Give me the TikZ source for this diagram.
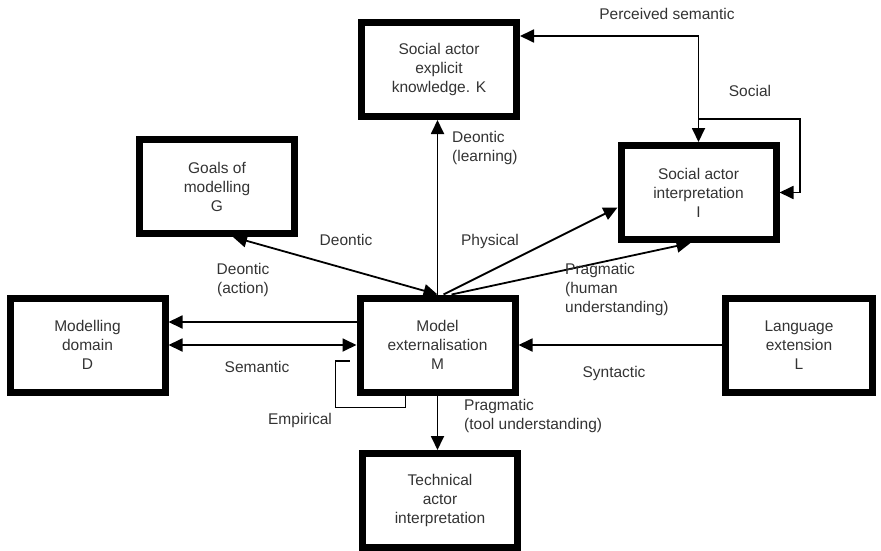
\documentclass[tikz,border=0pt]{standalone}
\usepackage{fontspec}
\setmainfont{Liberation Sans}
\usetikzlibrary{arrows.meta,calc}

\begin{document}
\begin{tikzpicture}[
	x=1pt, y=-1pt,
	font=\fontsize{15.5}{19}\selectfont,
	box/.style={ draw, line width=7pt, align=center, text=black!80, inner sep=0pt, minimum width=155pt, minimum height=94pt },
	lbl/.style={ text=black!80, align=center, inner sep=0pt },
	lbll/.style={ text=black!80, align=left, anchor=west, inner sep=0pt },
	conn/.style={ line width=1.8pt },
	arr/.style={ conn, -{Triangle[length=14pt,width=13pt]} },
	dbl/.style={ conn, {Triangle[length=14pt,width=13pt]}-{Triangle[length=14pt,width=13pt]} }
]
\useasboundingbox (0,0) rectangle (881,551);

\node[box] at (439,69.5) (K) {Social actor\\explicit\\knowledge. K};
\node[box] at (217,186.5) (G) {Goals of\\modelling\\G};
\node[box] at (698.5,192.5) (I) {Social actor\\interpretation\\I};
\node[box] at (87.5,345) (D) {Modelling\\domain\\D};
\node[box] at (437.5,345) (M) {Model\\externalisation\\M};
\node[box, minimum width=147pt] at (799,345) (L) {Language\\extension\\L};
\node[box] at (440,500.5) (T) {Technical\\actor\\interpretation};

% perceived semantic and social loop
\coordinate (ps) at (698.5,36);
\coordinate (sj) at (698.5,119);
\coordinate (sr) at (800,119);
\draw[dbl] (K.east |- ps) -- (ps) -- (I.north);
\draw[arr] (sj) -- (sr) |- (I.east);

% from model externalisation
\draw[arr] (M.north) -- (M.north |- K.south);
\draw[dbl] ($(G.south)+(16,0)$) -- (M.north);
\draw[arr] ($(M.north)+(6,0)$) -- ($(I.west)+(0,15)$);
\draw[arr] ($(M.north)+(14,0)$) -- ($(I.south)+(-8,0)$);
\coordinate (da) at ($(M.west)+(0,-23)$);
\draw[arr] (da) -- (D.east |- da);
\draw[dbl] (D.east) -- (M.west);
\draw[conn] ($(M.south)+(-32,0)$) -- ++(0,12) -| ($(M.west)+(-21,16)$) -- ($(M.west)+(-7,16)$);
\draw[arr] (L.west) -- (M.east);
\draw[arr] (M.south) -- (M.south |- T.north);

% labels
\node[lbl] at (667,14) (lps) {Perceived semantic};
\node[lbl] at (750,91) (lso) {Social};
\node[lbll] at (452,148) (lle) {Deontic\\(learning)};
\node[lbl] at (346,240) (lde) {Deontic};
\node[lbl] at (243,280) (lac) {Deontic\\(action)};
\node[lbl] at (490,241) (lph) {Physical};
\node[lbll] at (565,289) (lhu) {Pragmatic\\(human\\ understanding)};
\node[lbl] at (257,367) (lse) {Semantic};
\node[lbl] at (300,420) (lem) {Empirical};
\node[lbl] at (614,373) (lsy) {Syntactic};
\node[lbll] at (464,416) (lto) {Pragmatic\\(tool understanding)};

\end{tikzpicture}
\end{document}
